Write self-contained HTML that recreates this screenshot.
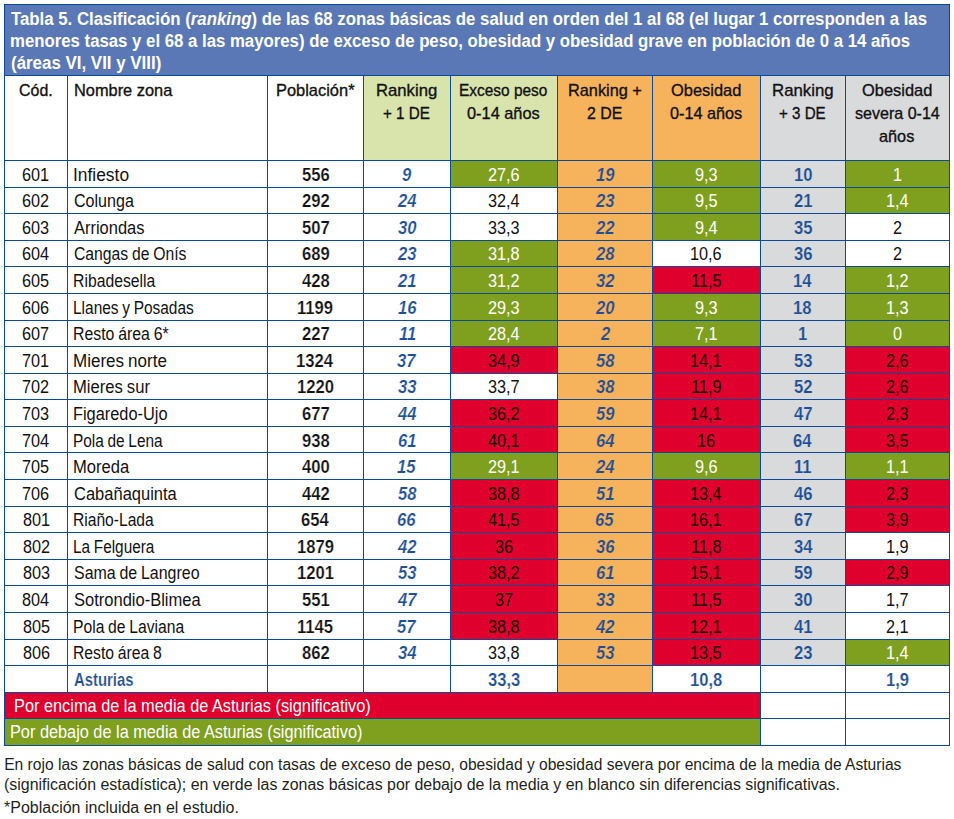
<!DOCTYPE html><html><head><meta charset="utf-8"><style>
html,body{margin:0;padding:0;background:#fff;width:954px;height:819px;overflow:hidden;position:relative}
div.r{position:absolute}
span.t{position:absolute;white-space:nowrap;font-family:"Liberation Sans", sans-serif;transform-origin:0 0}
</style></head><body>
<div class="r" style="left:4px;top:4px;width:946px;height:71px;background:#5a78b6"></div>
<div class="r" style="left:4px;top:75px;width:63px;height:85px;background:#ffffff"></div>
<div class="r" style="left:67px;top:75px;width:200px;height:85px;background:#ffffff"></div>
<div class="r" style="left:267px;top:75px;width:96px;height:85px;background:#ffffff"></div>
<div class="r" style="left:363px;top:75px;width:87px;height:85px;background:#d8e4ab"></div>
<div class="r" style="left:450px;top:75px;width:107px;height:85px;background:#d8e4ab"></div>
<div class="r" style="left:557px;top:75px;width:95px;height:85px;background:#f7b35b"></div>
<div class="r" style="left:652px;top:75px;width:108px;height:85px;background:#f7b35b"></div>
<div class="r" style="left:760px;top:75px;width:85px;height:85px;background:#d9dadc"></div>
<div class="r" style="left:845px;top:75px;width:104px;height:85px;background:#d9dadc"></div>
<div class="r" style="left:4px;top:160px;width:63px;height:27px;background:#ffffff"></div>
<div class="r" style="left:67px;top:160px;width:200px;height:27px;background:#ffffff"></div>
<div class="r" style="left:267px;top:160px;width:96px;height:27px;background:#ffffff"></div>
<div class="r" style="left:363px;top:160px;width:87px;height:27px;background:#ffffff"></div>
<div class="r" style="left:450px;top:160px;width:107px;height:27px;background:#7f9f1f"></div>
<div class="r" style="left:557px;top:160px;width:95px;height:27px;background:#f7b35b"></div>
<div class="r" style="left:652px;top:160px;width:108px;height:27px;background:#7f9f1f"></div>
<div class="r" style="left:760px;top:160px;width:85px;height:27px;background:#d9dadc"></div>
<div class="r" style="left:845px;top:160px;width:104px;height:27px;background:#7f9f1f"></div>
<div class="r" style="left:4px;top:187px;width:63px;height:26px;background:#ffffff"></div>
<div class="r" style="left:67px;top:187px;width:200px;height:26px;background:#ffffff"></div>
<div class="r" style="left:267px;top:187px;width:96px;height:26px;background:#ffffff"></div>
<div class="r" style="left:363px;top:187px;width:87px;height:26px;background:#ffffff"></div>
<div class="r" style="left:450px;top:187px;width:107px;height:26px;background:#ffffff"></div>
<div class="r" style="left:557px;top:187px;width:95px;height:26px;background:#f7b35b"></div>
<div class="r" style="left:652px;top:187px;width:108px;height:26px;background:#7f9f1f"></div>
<div class="r" style="left:760px;top:187px;width:85px;height:26px;background:#d9dadc"></div>
<div class="r" style="left:845px;top:187px;width:104px;height:26px;background:#7f9f1f"></div>
<div class="r" style="left:4px;top:213px;width:63px;height:27px;background:#ffffff"></div>
<div class="r" style="left:67px;top:213px;width:200px;height:27px;background:#ffffff"></div>
<div class="r" style="left:267px;top:213px;width:96px;height:27px;background:#ffffff"></div>
<div class="r" style="left:363px;top:213px;width:87px;height:27px;background:#ffffff"></div>
<div class="r" style="left:450px;top:213px;width:107px;height:27px;background:#ffffff"></div>
<div class="r" style="left:557px;top:213px;width:95px;height:27px;background:#f7b35b"></div>
<div class="r" style="left:652px;top:213px;width:108px;height:27px;background:#7f9f1f"></div>
<div class="r" style="left:760px;top:213px;width:85px;height:27px;background:#d9dadc"></div>
<div class="r" style="left:845px;top:213px;width:104px;height:27px;background:#ffffff"></div>
<div class="r" style="left:4px;top:240px;width:63px;height:26px;background:#ffffff"></div>
<div class="r" style="left:67px;top:240px;width:200px;height:26px;background:#ffffff"></div>
<div class="r" style="left:267px;top:240px;width:96px;height:26px;background:#ffffff"></div>
<div class="r" style="left:363px;top:240px;width:87px;height:26px;background:#ffffff"></div>
<div class="r" style="left:450px;top:240px;width:107px;height:26px;background:#7f9f1f"></div>
<div class="r" style="left:557px;top:240px;width:95px;height:26px;background:#f7b35b"></div>
<div class="r" style="left:652px;top:240px;width:108px;height:26px;background:#ffffff"></div>
<div class="r" style="left:760px;top:240px;width:85px;height:26px;background:#d9dadc"></div>
<div class="r" style="left:845px;top:240px;width:104px;height:26px;background:#ffffff"></div>
<div class="r" style="left:4px;top:266px;width:63px;height:27px;background:#ffffff"></div>
<div class="r" style="left:67px;top:266px;width:200px;height:27px;background:#ffffff"></div>
<div class="r" style="left:267px;top:266px;width:96px;height:27px;background:#ffffff"></div>
<div class="r" style="left:363px;top:266px;width:87px;height:27px;background:#ffffff"></div>
<div class="r" style="left:450px;top:266px;width:107px;height:27px;background:#7f9f1f"></div>
<div class="r" style="left:557px;top:266px;width:95px;height:27px;background:#f7b35b"></div>
<div class="r" style="left:652px;top:266px;width:108px;height:27px;background:#e0002d"></div>
<div class="r" style="left:760px;top:266px;width:85px;height:27px;background:#d9dadc"></div>
<div class="r" style="left:845px;top:266px;width:104px;height:27px;background:#7f9f1f"></div>
<div class="r" style="left:4px;top:293px;width:63px;height:27px;background:#ffffff"></div>
<div class="r" style="left:67px;top:293px;width:200px;height:27px;background:#ffffff"></div>
<div class="r" style="left:267px;top:293px;width:96px;height:27px;background:#ffffff"></div>
<div class="r" style="left:363px;top:293px;width:87px;height:27px;background:#ffffff"></div>
<div class="r" style="left:450px;top:293px;width:107px;height:27px;background:#7f9f1f"></div>
<div class="r" style="left:557px;top:293px;width:95px;height:27px;background:#f7b35b"></div>
<div class="r" style="left:652px;top:293px;width:108px;height:27px;background:#7f9f1f"></div>
<div class="r" style="left:760px;top:293px;width:85px;height:27px;background:#d9dadc"></div>
<div class="r" style="left:845px;top:293px;width:104px;height:27px;background:#7f9f1f"></div>
<div class="r" style="left:4px;top:320px;width:63px;height:26px;background:#ffffff"></div>
<div class="r" style="left:67px;top:320px;width:200px;height:26px;background:#ffffff"></div>
<div class="r" style="left:267px;top:320px;width:96px;height:26px;background:#ffffff"></div>
<div class="r" style="left:363px;top:320px;width:87px;height:26px;background:#ffffff"></div>
<div class="r" style="left:450px;top:320px;width:107px;height:26px;background:#7f9f1f"></div>
<div class="r" style="left:557px;top:320px;width:95px;height:26px;background:#f7b35b"></div>
<div class="r" style="left:652px;top:320px;width:108px;height:26px;background:#7f9f1f"></div>
<div class="r" style="left:760px;top:320px;width:85px;height:26px;background:#d9dadc"></div>
<div class="r" style="left:845px;top:320px;width:104px;height:26px;background:#7f9f1f"></div>
<div class="r" style="left:4px;top:346px;width:63px;height:27px;background:#ffffff"></div>
<div class="r" style="left:67px;top:346px;width:200px;height:27px;background:#ffffff"></div>
<div class="r" style="left:267px;top:346px;width:96px;height:27px;background:#ffffff"></div>
<div class="r" style="left:363px;top:346px;width:87px;height:27px;background:#ffffff"></div>
<div class="r" style="left:450px;top:346px;width:107px;height:27px;background:#e0002d"></div>
<div class="r" style="left:557px;top:346px;width:95px;height:27px;background:#f7b35b"></div>
<div class="r" style="left:652px;top:346px;width:108px;height:27px;background:#e0002d"></div>
<div class="r" style="left:760px;top:346px;width:85px;height:27px;background:#d9dadc"></div>
<div class="r" style="left:845px;top:346px;width:104px;height:27px;background:#e0002d"></div>
<div class="r" style="left:4px;top:373px;width:63px;height:26px;background:#ffffff"></div>
<div class="r" style="left:67px;top:373px;width:200px;height:26px;background:#ffffff"></div>
<div class="r" style="left:267px;top:373px;width:96px;height:26px;background:#ffffff"></div>
<div class="r" style="left:363px;top:373px;width:87px;height:26px;background:#ffffff"></div>
<div class="r" style="left:450px;top:373px;width:107px;height:26px;background:#ffffff"></div>
<div class="r" style="left:557px;top:373px;width:95px;height:26px;background:#f7b35b"></div>
<div class="r" style="left:652px;top:373px;width:108px;height:26px;background:#e0002d"></div>
<div class="r" style="left:760px;top:373px;width:85px;height:26px;background:#d9dadc"></div>
<div class="r" style="left:845px;top:373px;width:104px;height:26px;background:#e0002d"></div>
<div class="r" style="left:4px;top:399px;width:63px;height:27px;background:#ffffff"></div>
<div class="r" style="left:67px;top:399px;width:200px;height:27px;background:#ffffff"></div>
<div class="r" style="left:267px;top:399px;width:96px;height:27px;background:#ffffff"></div>
<div class="r" style="left:363px;top:399px;width:87px;height:27px;background:#ffffff"></div>
<div class="r" style="left:450px;top:399px;width:107px;height:27px;background:#e0002d"></div>
<div class="r" style="left:557px;top:399px;width:95px;height:27px;background:#f7b35b"></div>
<div class="r" style="left:652px;top:399px;width:108px;height:27px;background:#e0002d"></div>
<div class="r" style="left:760px;top:399px;width:85px;height:27px;background:#d9dadc"></div>
<div class="r" style="left:845px;top:399px;width:104px;height:27px;background:#e0002d"></div>
<div class="r" style="left:4px;top:426px;width:63px;height:26px;background:#ffffff"></div>
<div class="r" style="left:67px;top:426px;width:200px;height:26px;background:#ffffff"></div>
<div class="r" style="left:267px;top:426px;width:96px;height:26px;background:#ffffff"></div>
<div class="r" style="left:363px;top:426px;width:87px;height:26px;background:#ffffff"></div>
<div class="r" style="left:450px;top:426px;width:107px;height:26px;background:#e0002d"></div>
<div class="r" style="left:557px;top:426px;width:95px;height:26px;background:#f7b35b"></div>
<div class="r" style="left:652px;top:426px;width:108px;height:26px;background:#e0002d"></div>
<div class="r" style="left:760px;top:426px;width:85px;height:26px;background:#d9dadc"></div>
<div class="r" style="left:845px;top:426px;width:104px;height:26px;background:#e0002d"></div>
<div class="r" style="left:4px;top:452px;width:63px;height:27px;background:#ffffff"></div>
<div class="r" style="left:67px;top:452px;width:200px;height:27px;background:#ffffff"></div>
<div class="r" style="left:267px;top:452px;width:96px;height:27px;background:#ffffff"></div>
<div class="r" style="left:363px;top:452px;width:87px;height:27px;background:#ffffff"></div>
<div class="r" style="left:450px;top:452px;width:107px;height:27px;background:#7f9f1f"></div>
<div class="r" style="left:557px;top:452px;width:95px;height:27px;background:#f7b35b"></div>
<div class="r" style="left:652px;top:452px;width:108px;height:27px;background:#7f9f1f"></div>
<div class="r" style="left:760px;top:452px;width:85px;height:27px;background:#d9dadc"></div>
<div class="r" style="left:845px;top:452px;width:104px;height:27px;background:#7f9f1f"></div>
<div class="r" style="left:4px;top:479px;width:63px;height:27px;background:#ffffff"></div>
<div class="r" style="left:67px;top:479px;width:200px;height:27px;background:#ffffff"></div>
<div class="r" style="left:267px;top:479px;width:96px;height:27px;background:#ffffff"></div>
<div class="r" style="left:363px;top:479px;width:87px;height:27px;background:#ffffff"></div>
<div class="r" style="left:450px;top:479px;width:107px;height:27px;background:#e0002d"></div>
<div class="r" style="left:557px;top:479px;width:95px;height:27px;background:#f7b35b"></div>
<div class="r" style="left:652px;top:479px;width:108px;height:27px;background:#e0002d"></div>
<div class="r" style="left:760px;top:479px;width:85px;height:27px;background:#d9dadc"></div>
<div class="r" style="left:845px;top:479px;width:104px;height:27px;background:#e0002d"></div>
<div class="r" style="left:4px;top:506px;width:63px;height:26px;background:#ffffff"></div>
<div class="r" style="left:67px;top:506px;width:200px;height:26px;background:#ffffff"></div>
<div class="r" style="left:267px;top:506px;width:96px;height:26px;background:#ffffff"></div>
<div class="r" style="left:363px;top:506px;width:87px;height:26px;background:#ffffff"></div>
<div class="r" style="left:450px;top:506px;width:107px;height:26px;background:#e0002d"></div>
<div class="r" style="left:557px;top:506px;width:95px;height:26px;background:#f7b35b"></div>
<div class="r" style="left:652px;top:506px;width:108px;height:26px;background:#e0002d"></div>
<div class="r" style="left:760px;top:506px;width:85px;height:26px;background:#d9dadc"></div>
<div class="r" style="left:845px;top:506px;width:104px;height:26px;background:#e0002d"></div>
<div class="r" style="left:4px;top:532px;width:63px;height:27px;background:#ffffff"></div>
<div class="r" style="left:67px;top:532px;width:200px;height:27px;background:#ffffff"></div>
<div class="r" style="left:267px;top:532px;width:96px;height:27px;background:#ffffff"></div>
<div class="r" style="left:363px;top:532px;width:87px;height:27px;background:#ffffff"></div>
<div class="r" style="left:450px;top:532px;width:107px;height:27px;background:#e0002d"></div>
<div class="r" style="left:557px;top:532px;width:95px;height:27px;background:#f7b35b"></div>
<div class="r" style="left:652px;top:532px;width:108px;height:27px;background:#e0002d"></div>
<div class="r" style="left:760px;top:532px;width:85px;height:27px;background:#d9dadc"></div>
<div class="r" style="left:845px;top:532px;width:104px;height:27px;background:#ffffff"></div>
<div class="r" style="left:4px;top:559px;width:63px;height:26px;background:#ffffff"></div>
<div class="r" style="left:67px;top:559px;width:200px;height:26px;background:#ffffff"></div>
<div class="r" style="left:267px;top:559px;width:96px;height:26px;background:#ffffff"></div>
<div class="r" style="left:363px;top:559px;width:87px;height:26px;background:#ffffff"></div>
<div class="r" style="left:450px;top:559px;width:107px;height:26px;background:#e0002d"></div>
<div class="r" style="left:557px;top:559px;width:95px;height:26px;background:#f7b35b"></div>
<div class="r" style="left:652px;top:559px;width:108px;height:26px;background:#e0002d"></div>
<div class="r" style="left:760px;top:559px;width:85px;height:26px;background:#d9dadc"></div>
<div class="r" style="left:845px;top:559px;width:104px;height:26px;background:#e0002d"></div>
<div class="r" style="left:4px;top:585px;width:63px;height:27px;background:#ffffff"></div>
<div class="r" style="left:67px;top:585px;width:200px;height:27px;background:#ffffff"></div>
<div class="r" style="left:267px;top:585px;width:96px;height:27px;background:#ffffff"></div>
<div class="r" style="left:363px;top:585px;width:87px;height:27px;background:#ffffff"></div>
<div class="r" style="left:450px;top:585px;width:107px;height:27px;background:#e0002d"></div>
<div class="r" style="left:557px;top:585px;width:95px;height:27px;background:#f7b35b"></div>
<div class="r" style="left:652px;top:585px;width:108px;height:27px;background:#e0002d"></div>
<div class="r" style="left:760px;top:585px;width:85px;height:27px;background:#d9dadc"></div>
<div class="r" style="left:845px;top:585px;width:104px;height:27px;background:#ffffff"></div>
<div class="r" style="left:4px;top:612px;width:63px;height:27px;background:#ffffff"></div>
<div class="r" style="left:67px;top:612px;width:200px;height:27px;background:#ffffff"></div>
<div class="r" style="left:267px;top:612px;width:96px;height:27px;background:#ffffff"></div>
<div class="r" style="left:363px;top:612px;width:87px;height:27px;background:#ffffff"></div>
<div class="r" style="left:450px;top:612px;width:107px;height:27px;background:#e0002d"></div>
<div class="r" style="left:557px;top:612px;width:95px;height:27px;background:#f7b35b"></div>
<div class="r" style="left:652px;top:612px;width:108px;height:27px;background:#e0002d"></div>
<div class="r" style="left:760px;top:612px;width:85px;height:27px;background:#d9dadc"></div>
<div class="r" style="left:845px;top:612px;width:104px;height:27px;background:#ffffff"></div>
<div class="r" style="left:4px;top:639px;width:63px;height:26px;background:#ffffff"></div>
<div class="r" style="left:67px;top:639px;width:200px;height:26px;background:#ffffff"></div>
<div class="r" style="left:267px;top:639px;width:96px;height:26px;background:#ffffff"></div>
<div class="r" style="left:363px;top:639px;width:87px;height:26px;background:#ffffff"></div>
<div class="r" style="left:450px;top:639px;width:107px;height:26px;background:#ffffff"></div>
<div class="r" style="left:557px;top:639px;width:95px;height:26px;background:#f7b35b"></div>
<div class="r" style="left:652px;top:639px;width:108px;height:26px;background:#e0002d"></div>
<div class="r" style="left:760px;top:639px;width:85px;height:26px;background:#d9dadc"></div>
<div class="r" style="left:845px;top:639px;width:104px;height:26px;background:#7f9f1f"></div>
<div class="r" style="left:4px;top:665px;width:63px;height:27px;background:#ffffff"></div>
<div class="r" style="left:67px;top:665px;width:200px;height:27px;background:#ffffff"></div>
<div class="r" style="left:267px;top:665px;width:96px;height:27px;background:#ffffff"></div>
<div class="r" style="left:363px;top:665px;width:87px;height:27px;background:#ffffff"></div>
<div class="r" style="left:450px;top:665px;width:107px;height:27px;background:#ffffff"></div>
<div class="r" style="left:557px;top:665px;width:95px;height:27px;background:#f7b35b"></div>
<div class="r" style="left:652px;top:665px;width:108px;height:27px;background:#ffffff"></div>
<div class="r" style="left:760px;top:665px;width:85px;height:27px;background:#ffffff"></div>
<div class="r" style="left:845px;top:665px;width:104px;height:27px;background:#ffffff"></div>
<div class="r" style="left:4px;top:692px;width:756px;height:26px;background:#e0002d"></div>
<div class="r" style="left:4px;top:718px;width:756px;height:27px;background:#7f9f1f"></div>
<div class="r" style="left:4px;top:4px;width:946px;height:1px;background:#0b4a9b"></div>
<div class="r" style="left:4px;top:4px;width:1px;height:742px;background:#0b4a9b"></div>
<div class="r" style="left:949px;top:4px;width:1px;height:742px;background:#0b4a9b"></div>
<div class="r" style="left:4px;top:75px;width:946px;height:1px;background:#0b4a9b"></div>
<div class="r" style="left:4px;top:160px;width:946px;height:1px;background:#0b4a9b"></div>
<div class="r" style="left:4px;top:187px;width:946px;height:1px;background:#0b4a9b"></div>
<div class="r" style="left:4px;top:213px;width:946px;height:1px;background:#0b4a9b"></div>
<div class="r" style="left:4px;top:240px;width:946px;height:1px;background:#0b4a9b"></div>
<div class="r" style="left:4px;top:266px;width:946px;height:1px;background:#0b4a9b"></div>
<div class="r" style="left:4px;top:293px;width:946px;height:1px;background:#0b4a9b"></div>
<div class="r" style="left:4px;top:320px;width:946px;height:1px;background:#0b4a9b"></div>
<div class="r" style="left:4px;top:346px;width:946px;height:1px;background:#0b4a9b"></div>
<div class="r" style="left:4px;top:373px;width:946px;height:1px;background:#0b4a9b"></div>
<div class="r" style="left:4px;top:399px;width:946px;height:1px;background:#0b4a9b"></div>
<div class="r" style="left:4px;top:426px;width:946px;height:1px;background:#0b4a9b"></div>
<div class="r" style="left:4px;top:452px;width:946px;height:1px;background:#0b4a9b"></div>
<div class="r" style="left:4px;top:479px;width:946px;height:1px;background:#0b4a9b"></div>
<div class="r" style="left:4px;top:506px;width:946px;height:1px;background:#0b4a9b"></div>
<div class="r" style="left:4px;top:532px;width:946px;height:1px;background:#0b4a9b"></div>
<div class="r" style="left:4px;top:559px;width:946px;height:1px;background:#0b4a9b"></div>
<div class="r" style="left:4px;top:585px;width:946px;height:1px;background:#0b4a9b"></div>
<div class="r" style="left:4px;top:612px;width:946px;height:1px;background:#0b4a9b"></div>
<div class="r" style="left:4px;top:639px;width:946px;height:1px;background:#0b4a9b"></div>
<div class="r" style="left:4px;top:665px;width:946px;height:1px;background:#0b4a9b"></div>
<div class="r" style="left:4px;top:692px;width:946px;height:1px;background:#0b4a9b"></div>
<div class="r" style="left:4px;top:718px;width:946px;height:1px;background:#0b4a9b"></div>
<div class="r" style="left:4px;top:745px;width:946px;height:1px;background:#0b4a9b"></div>
<div class="r" style="left:67px;top:75px;width:1px;height:618px;background:#0b4a9b"></div>
<div class="r" style="left:267px;top:75px;width:1px;height:618px;background:#0b4a9b"></div>
<div class="r" style="left:363px;top:75px;width:1px;height:618px;background:#0b4a9b"></div>
<div class="r" style="left:450px;top:75px;width:1px;height:618px;background:#0b4a9b"></div>
<div class="r" style="left:557px;top:75px;width:1px;height:618px;background:#0b4a9b"></div>
<div class="r" style="left:652px;top:75px;width:1px;height:618px;background:#0b4a9b"></div>
<div class="r" style="left:760px;top:75px;width:1px;height:671px;background:#0b4a9b"></div>
<div class="r" style="left:845px;top:75px;width:1px;height:671px;background:#0b4a9b"></div>
<span class="t" style="left:11.40px;top:10px;font-size:18.0px;line-height:18.0px;color:#ffffff;font-weight:bold;transform:scaleX(0.9328)">Tabla 5. Clasificación (<i>ranking</i>) de las 68 zonas básicas de salud en orden del 1 al 68 (el lugar 1 corresponden a las</span>
<span class="t" style="left:10.35px;top:32px;font-size:18.0px;line-height:18.0px;color:#ffffff;font-weight:bold;transform:scaleX(0.9314)">menores tasas y el 68 a las mayores) de exceso de peso, obesidad y obesidad grave en población de 0 a 14 años</span>
<span class="t" style="left:10.61px;top:54px;font-size:18.0px;line-height:18.0px;color:#ffffff;font-weight:bold;transform:scaleX(0.9390)">(áreas VI, VII y VIII)</span>
<span class="t" style="left:19.25px;top:82px;font-size:17.0px;line-height:17.0px;color:#111111;transform:scaleX(0.9382);-webkit-text-stroke:0.35px #111111">Cód.</span>
<span class="t" style="left:73.72px;top:82px;font-size:17.0px;line-height:17.0px;color:#111111;transform:scaleX(0.9630);-webkit-text-stroke:0.35px #111111">Nombre zona</span>
<span class="t" style="left:276.02px;top:82px;font-size:17.0px;line-height:17.0px;color:#111111;transform:scaleX(0.9660);-webkit-text-stroke:0.35px #111111">Población*</span>
<span class="t" style="left:375.70px;top:82px;font-size:17.0px;line-height:17.0px;color:#111111;transform:scaleX(0.9819);-webkit-text-stroke:0.35px #111111">Ranking</span>
<span class="t" style="left:383.49px;top:105px;font-size:17.0px;line-height:17.0px;color:#111111;transform:scaleX(0.8953);-webkit-text-stroke:0.35px #111111">+ 1 DE</span>
<span class="t" style="left:459.09px;top:82px;font-size:17.0px;line-height:17.0px;color:#111111;transform:scaleX(0.9075);-webkit-text-stroke:0.35px #111111">Exceso peso</span>
<span class="t" style="left:466.99px;top:105px;font-size:17.0px;line-height:17.0px;color:#111111;transform:scaleX(0.9618);-webkit-text-stroke:0.35px #111111">0-14 años</span>
<span class="t" style="left:567.83px;top:82px;font-size:17.0px;line-height:17.0px;color:#111111;transform:scaleX(0.9592);-webkit-text-stroke:0.35px #111111">Ranking +</span>
<span class="t" style="left:587.36px;top:105px;font-size:17.0px;line-height:17.0px;color:#111111;transform:scaleX(0.9343);-webkit-text-stroke:0.35px #111111">2 DE</span>
<span class="t" style="left:671.23px;top:82px;font-size:17.0px;line-height:17.0px;color:#111111;transform:scaleX(0.9659);-webkit-text-stroke:0.35px #111111">Obesidad</span>
<span class="t" style="left:670.19px;top:105px;font-size:17.0px;line-height:17.0px;color:#111111;transform:scaleX(0.9551);-webkit-text-stroke:0.35px #111111">0-14 años</span>
<span class="t" style="left:772.29px;top:82px;font-size:17.0px;line-height:17.0px;color:#111111;transform:scaleX(0.9885);-webkit-text-stroke:0.35px #111111">Ranking</span>
<span class="t" style="left:779.29px;top:105px;font-size:17.0px;line-height:17.0px;color:#111111;transform:scaleX(0.8894);-webkit-text-stroke:0.35px #111111">+ 3 DE</span>
<span class="t" style="left:861.93px;top:82px;font-size:17.0px;line-height:17.0px;color:#111111;transform:scaleX(0.9659);-webkit-text-stroke:0.35px #111111">Obesidad</span>
<span class="t" style="left:855.25px;top:105px;font-size:17.0px;line-height:17.0px;color:#111111;transform:scaleX(0.9441);-webkit-text-stroke:0.35px #111111">severa 0-14</span>
<span class="t" style="left:879.29px;top:128px;font-size:17.0px;line-height:17.0px;color:#111111;transform:scaleX(0.9581);-webkit-text-stroke:0.35px #111111">años</span>
<span class="t" style="left:22.37px;top:167px;font-size:17.5px;line-height:17.5px;color:#111111;transform:scaleX(0.9300)">601</span>
<span class="t" style="left:72.94px;top:167px;font-size:17.5px;line-height:17.5px;color:#111111;transform:scaleX(0.9936);word-spacing:-0.7px">Infiesto</span>
<span class="t" style="left:301.71px;top:167px;font-size:17.5px;line-height:17.5px;color:#111111;font-weight:bold;transform:scaleX(0.9500);-webkit-text-stroke:0.2px #ffffff">556</span>
<span class="t" style="left:402.19px;top:167px;font-size:17.5px;line-height:17.5px;color:#1c4f96;font-weight:bold;font-style:italic;transform:scaleX(0.9500);-webkit-text-stroke:0.2px #ffffff">9</span>
<span class="t" style="left:488.11px;top:167px;font-size:17.5px;line-height:17.5px;color:#ffffff;transform:scaleX(0.9300)">27,6</span>
<span class="t" style="left:595.57px;top:167px;font-size:17.5px;line-height:17.5px;color:#1c4f96;font-weight:bold;font-style:italic;transform:scaleX(0.9500);-webkit-text-stroke:0.2px #f7b35b">19</span>
<span class="t" style="left:695.14px;top:167px;font-size:17.5px;line-height:17.5px;color:#ffffff;transform:scaleX(0.9300)">9,3</span>
<span class="t" style="left:793.57px;top:167px;font-size:17.5px;line-height:17.5px;color:#1c4f96;font-weight:bold;transform:scaleX(0.9500);-webkit-text-stroke:0.2px #d9dadc">10</span>
<span class="t" style="left:892.80px;top:167px;font-size:17.5px;line-height:17.5px;color:#ffffff;transform:scaleX(0.9300)">1</span>
<span class="t" style="left:22.37px;top:193px;font-size:17.5px;line-height:17.5px;color:#111111;transform:scaleX(0.9300)">602</span>
<span class="t" style="left:73.55px;top:193px;font-size:17.5px;line-height:17.5px;color:#111111;transform:scaleX(0.9181);word-spacing:-0.7px">Colunga</span>
<span class="t" style="left:301.58px;top:193px;font-size:17.5px;line-height:17.5px;color:#111111;font-weight:bold;transform:scaleX(0.9500);-webkit-text-stroke:0.2px #ffffff">292</span>
<span class="t" style="left:397.96px;top:193px;font-size:17.5px;line-height:17.5px;color:#1c4f96;font-weight:bold;font-style:italic;transform:scaleX(0.9500);-webkit-text-stroke:0.2px #ffffff">24</span>
<span class="t" style="left:488.11px;top:193px;font-size:17.5px;line-height:17.5px;color:#111111;transform:scaleX(0.9300)">32,4</span>
<span class="t" style="left:595.96px;top:193px;font-size:17.5px;line-height:17.5px;color:#1c4f96;font-weight:bold;font-style:italic;transform:scaleX(0.9500);-webkit-text-stroke:0.2px #f7b35b">23</span>
<span class="t" style="left:695.14px;top:193px;font-size:17.5px;line-height:17.5px;color:#ffffff;transform:scaleX(0.9300)">9,5</span>
<span class="t" style="left:793.70px;top:193px;font-size:17.5px;line-height:17.5px;color:#1c4f96;font-weight:bold;transform:scaleX(0.9500);-webkit-text-stroke:0.2px #d9dadc">21</span>
<span class="t" style="left:885.88px;top:193px;font-size:17.5px;line-height:17.5px;color:#ffffff;transform:scaleX(0.9300)">1,4</span>
<span class="t" style="left:22.37px;top:220px;font-size:17.5px;line-height:17.5px;color:#111111;transform:scaleX(0.9300)">603</span>
<span class="t" style="left:74.30px;top:220px;font-size:17.5px;line-height:17.5px;color:#111111;transform:scaleX(0.9402);word-spacing:-0.7px">Arriondas</span>
<span class="t" style="left:301.84px;top:220px;font-size:17.5px;line-height:17.5px;color:#111111;font-weight:bold;transform:scaleX(0.9500);-webkit-text-stroke:0.2px #ffffff">507</span>
<span class="t" style="left:397.83px;top:220px;font-size:17.5px;line-height:17.5px;color:#1c4f96;font-weight:bold;font-style:italic;transform:scaleX(0.9500);-webkit-text-stroke:0.2px #ffffff">30</span>
<span class="t" style="left:488.24px;top:220px;font-size:17.5px;line-height:17.5px;color:#111111;transform:scaleX(0.9300)">33,3</span>
<span class="t" style="left:595.96px;top:220px;font-size:17.5px;line-height:17.5px;color:#1c4f96;font-weight:bold;font-style:italic;transform:scaleX(0.9500);-webkit-text-stroke:0.2px #f7b35b">22</span>
<span class="t" style="left:695.01px;top:220px;font-size:17.5px;line-height:17.5px;color:#ffffff;transform:scaleX(0.9300)">9,4</span>
<span class="t" style="left:793.83px;top:220px;font-size:17.5px;line-height:17.5px;color:#1c4f96;font-weight:bold;transform:scaleX(0.9500);-webkit-text-stroke:0.2px #d9dadc">35</span>
<span class="t" style="left:892.92px;top:220px;font-size:17.5px;line-height:17.5px;color:#111111;transform:scaleX(0.9300)">2</span>
<span class="t" style="left:22.24px;top:246px;font-size:17.5px;line-height:17.5px;color:#111111;transform:scaleX(0.9300)">604</span>
<span class="t" style="left:73.56px;top:246px;font-size:17.5px;line-height:17.5px;color:#111111;transform:scaleX(0.8990);word-spacing:-0.7px">Cangas de Onís</span>
<span class="t" style="left:301.58px;top:246px;font-size:17.5px;line-height:17.5px;color:#111111;font-weight:bold;transform:scaleX(0.9500);-webkit-text-stroke:0.2px #ffffff">689</span>
<span class="t" style="left:397.96px;top:246px;font-size:17.5px;line-height:17.5px;color:#1c4f96;font-weight:bold;font-style:italic;transform:scaleX(0.9500);-webkit-text-stroke:0.2px #ffffff">23</span>
<span class="t" style="left:488.24px;top:246px;font-size:17.5px;line-height:17.5px;color:#ffffff;transform:scaleX(0.9300)">31,8</span>
<span class="t" style="left:595.83px;top:246px;font-size:17.5px;line-height:17.5px;color:#1c4f96;font-weight:bold;font-style:italic;transform:scaleX(0.9500);-webkit-text-stroke:0.2px #f7b35b">28</span>
<span class="t" style="left:690.48px;top:246px;font-size:17.5px;line-height:17.5px;color:#111111;transform:scaleX(0.9300)">10,6</span>
<span class="t" style="left:793.83px;top:246px;font-size:17.5px;line-height:17.5px;color:#1c4f96;font-weight:bold;transform:scaleX(0.9500);-webkit-text-stroke:0.2px #d9dadc">36</span>
<span class="t" style="left:892.92px;top:246px;font-size:17.5px;line-height:17.5px;color:#111111;transform:scaleX(0.9300)">2</span>
<span class="t" style="left:22.37px;top:273px;font-size:17.5px;line-height:17.5px;color:#111111;transform:scaleX(0.9300)">605</span>
<span class="t" style="left:73.07px;top:273px;font-size:17.5px;line-height:17.5px;color:#111111;transform:scaleX(0.9003);word-spacing:-0.7px">Ribadesella</span>
<span class="t" style="left:301.84px;top:273px;font-size:17.5px;line-height:17.5px;color:#111111;font-weight:bold;transform:scaleX(0.9500);-webkit-text-stroke:0.2px #ffffff">428</span>
<span class="t" style="left:398.22px;top:273px;font-size:17.5px;line-height:17.5px;color:#1c4f96;font-weight:bold;font-style:italic;transform:scaleX(0.9500);-webkit-text-stroke:0.2px #ffffff">21</span>
<span class="t" style="left:488.24px;top:273px;font-size:17.5px;line-height:17.5px;color:#ffffff;transform:scaleX(0.9300)">31,2</span>
<span class="t" style="left:595.83px;top:273px;font-size:17.5px;line-height:17.5px;color:#1c4f96;font-weight:bold;font-style:italic;transform:scaleX(0.9500);-webkit-text-stroke:0.2px #f7b35b">32</span>
<span class="t" style="left:691.09px;top:273px;font-size:17.5px;line-height:17.5px;color:#1a0005;transform:scaleX(0.9300)">11,5</span>
<span class="t" style="left:793.18px;top:273px;font-size:17.5px;line-height:17.5px;color:#1c4f96;font-weight:bold;transform:scaleX(0.9500);-webkit-text-stroke:0.2px #d9dadc">14</span>
<span class="t" style="left:886.01px;top:273px;font-size:17.5px;line-height:17.5px;color:#ffffff;transform:scaleX(0.9300)">1,2</span>
<span class="t" style="left:22.37px;top:300px;font-size:17.5px;line-height:17.5px;color:#111111;transform:scaleX(0.9300)">606</span>
<span class="t" style="left:73.09px;top:300px;font-size:17.5px;line-height:17.5px;color:#111111;transform:scaleX(0.8833);word-spacing:-0.7px">Llanes y Posadas</span>
<span class="t" style="left:297.15px;top:300px;font-size:17.5px;line-height:17.5px;color:#111111;font-weight:bold;transform:scaleX(0.9500);-webkit-text-stroke:0.2px #ffffff">1199</span>
<span class="t" style="left:397.57px;top:300px;font-size:17.5px;line-height:17.5px;color:#1c4f96;font-weight:bold;font-style:italic;transform:scaleX(0.9500);-webkit-text-stroke:0.2px #ffffff">16</span>
<span class="t" style="left:488.11px;top:300px;font-size:17.5px;line-height:17.5px;color:#ffffff;transform:scaleX(0.9300)">29,3</span>
<span class="t" style="left:595.96px;top:300px;font-size:17.5px;line-height:17.5px;color:#1c4f96;font-weight:bold;font-style:italic;transform:scaleX(0.9500);-webkit-text-stroke:0.2px #f7b35b">20</span>
<span class="t" style="left:695.14px;top:300px;font-size:17.5px;line-height:17.5px;color:#ffffff;transform:scaleX(0.9300)">9,3</span>
<span class="t" style="left:793.44px;top:300px;font-size:17.5px;line-height:17.5px;color:#1c4f96;font-weight:bold;transform:scaleX(0.9500);-webkit-text-stroke:0.2px #d9dadc">18</span>
<span class="t" style="left:886.01px;top:300px;font-size:17.5px;line-height:17.5px;color:#ffffff;transform:scaleX(0.9300)">1,3</span>
<span class="t" style="left:22.37px;top:326px;font-size:17.5px;line-height:17.5px;color:#111111;transform:scaleX(0.9300)">607</span>
<span class="t" style="left:73.06px;top:326px;font-size:17.5px;line-height:17.5px;color:#111111;transform:scaleX(0.9058);word-spacing:-0.7px">Resto área 6*</span>
<span class="t" style="left:301.71px;top:326px;font-size:17.5px;line-height:17.5px;color:#111111;font-weight:bold;transform:scaleX(0.9500);-webkit-text-stroke:0.2px #ffffff">227</span>
<span class="t" style="left:398.58px;top:326px;font-size:17.5px;line-height:17.5px;color:#1c4f96;font-weight:bold;font-style:italic;transform:scaleX(0.9500);-webkit-text-stroke:0.2px #ffffff">11</span>
<span class="t" style="left:487.98px;top:326px;font-size:17.5px;line-height:17.5px;color:#ffffff;transform:scaleX(0.9300)">28,4</span>
<span class="t" style="left:600.58px;top:326px;font-size:17.5px;line-height:17.5px;color:#1c4f96;font-weight:bold;font-style:italic;transform:scaleX(0.9500);-webkit-text-stroke:0.2px #f7b35b">2</span>
<span class="t" style="left:695.14px;top:326px;font-size:17.5px;line-height:17.5px;color:#ffffff;transform:scaleX(0.9300)">7,1</span>
<span class="t" style="left:798.06px;top:326px;font-size:17.5px;line-height:17.5px;color:#1c4f96;font-weight:bold;transform:scaleX(0.9500);-webkit-text-stroke:0.2px #d9dadc">1</span>
<span class="t" style="left:892.92px;top:326px;font-size:17.5px;line-height:17.5px;color:#ffffff;transform:scaleX(0.9300)">0</span>
<span class="t" style="left:22.37px;top:353px;font-size:17.5px;line-height:17.5px;color:#111111;transform:scaleX(0.9300)">701</span>
<span class="t" style="left:72.97px;top:353px;font-size:17.5px;line-height:17.5px;color:#111111;transform:scaleX(0.9727);word-spacing:-0.7px">Mieres norte</span>
<span class="t" style="left:296.44px;top:353px;font-size:17.5px;line-height:17.5px;color:#111111;font-weight:bold;transform:scaleX(0.9500);-webkit-text-stroke:0.2px #ffffff">1324</span>
<span class="t" style="left:397.31px;top:353px;font-size:17.5px;line-height:17.5px;color:#1c4f96;font-weight:bold;font-style:italic;transform:scaleX(0.9500);-webkit-text-stroke:0.2px #ffffff">37</span>
<span class="t" style="left:488.24px;top:353px;font-size:17.5px;line-height:17.5px;color:#1a0005;transform:scaleX(0.9300)">34,9</span>
<span class="t" style="left:595.70px;top:353px;font-size:17.5px;line-height:17.5px;color:#1c4f96;font-weight:bold;font-style:italic;transform:scaleX(0.9500);-webkit-text-stroke:0.2px #f7b35b">58</span>
<span class="t" style="left:690.48px;top:353px;font-size:17.5px;line-height:17.5px;color:#1a0005;transform:scaleX(0.9300)">14,1</span>
<span class="t" style="left:793.83px;top:353px;font-size:17.5px;line-height:17.5px;color:#1c4f96;font-weight:bold;transform:scaleX(0.9500);-webkit-text-stroke:0.2px #d9dadc">53</span>
<span class="t" style="left:886.14px;top:353px;font-size:17.5px;line-height:17.5px;color:#1a0005;transform:scaleX(0.9300)">2,6</span>
<span class="t" style="left:22.37px;top:379px;font-size:17.5px;line-height:17.5px;color:#111111;transform:scaleX(0.9300)">702</span>
<span class="t" style="left:73.00px;top:379px;font-size:17.5px;line-height:17.5px;color:#111111;transform:scaleX(0.9506);word-spacing:-0.7px">Mieres sur</span>
<span class="t" style="left:296.83px;top:379px;font-size:17.5px;line-height:17.5px;color:#111111;font-weight:bold;transform:scaleX(0.9500);-webkit-text-stroke:0.2px #ffffff">1220</span>
<span class="t" style="left:397.83px;top:379px;font-size:17.5px;line-height:17.5px;color:#1c4f96;font-weight:bold;font-style:italic;transform:scaleX(0.9500);-webkit-text-stroke:0.2px #ffffff">33</span>
<span class="t" style="left:488.24px;top:379px;font-size:17.5px;line-height:17.5px;color:#111111;transform:scaleX(0.9300)">33,7</span>
<span class="t" style="left:595.70px;top:379px;font-size:17.5px;line-height:17.5px;color:#1c4f96;font-weight:bold;font-style:italic;transform:scaleX(0.9500);-webkit-text-stroke:0.2px #f7b35b">38</span>
<span class="t" style="left:691.09px;top:379px;font-size:17.5px;line-height:17.5px;color:#1a0005;transform:scaleX(0.9300)">11,9</span>
<span class="t" style="left:793.83px;top:379px;font-size:17.5px;line-height:17.5px;color:#1c4f96;font-weight:bold;transform:scaleX(0.9500);-webkit-text-stroke:0.2px #d9dadc">52</span>
<span class="t" style="left:886.14px;top:379px;font-size:17.5px;line-height:17.5px;color:#1a0005;transform:scaleX(0.9300)">2,6</span>
<span class="t" style="left:22.37px;top:406px;font-size:17.5px;line-height:17.5px;color:#111111;transform:scaleX(0.9300)">703</span>
<span class="t" style="left:73.02px;top:406px;font-size:17.5px;line-height:17.5px;color:#111111;transform:scaleX(0.9346);word-spacing:-0.7px">Figaredo-Ujo</span>
<span class="t" style="left:301.71px;top:406px;font-size:17.5px;line-height:17.5px;color:#111111;font-weight:bold;transform:scaleX(0.9500);-webkit-text-stroke:0.2px #ffffff">677</span>
<span class="t" style="left:398.09px;top:406px;font-size:17.5px;line-height:17.5px;color:#1c4f96;font-weight:bold;font-style:italic;transform:scaleX(0.9500);-webkit-text-stroke:0.2px #ffffff">44</span>
<span class="t" style="left:488.24px;top:406px;font-size:17.5px;line-height:17.5px;color:#1a0005;transform:scaleX(0.9300)">36,2</span>
<span class="t" style="left:595.70px;top:406px;font-size:17.5px;line-height:17.5px;color:#1c4f96;font-weight:bold;font-style:italic;transform:scaleX(0.9500);-webkit-text-stroke:0.2px #f7b35b">59</span>
<span class="t" style="left:690.48px;top:406px;font-size:17.5px;line-height:17.5px;color:#1a0005;transform:scaleX(0.9300)">14,1</span>
<span class="t" style="left:794.09px;top:406px;font-size:17.5px;line-height:17.5px;color:#1c4f96;font-weight:bold;transform:scaleX(0.9500);-webkit-text-stroke:0.2px #d9dadc">47</span>
<span class="t" style="left:886.14px;top:406px;font-size:17.5px;line-height:17.5px;color:#1a0005;transform:scaleX(0.9300)">2,3</span>
<span class="t" style="left:22.24px;top:433px;font-size:17.5px;line-height:17.5px;color:#111111;transform:scaleX(0.9300)">704</span>
<span class="t" style="left:73.10px;top:433px;font-size:17.5px;line-height:17.5px;color:#111111;transform:scaleX(0.8807);word-spacing:-0.7px">Pola de Lena</span>
<span class="t" style="left:301.58px;top:433px;font-size:17.5px;line-height:17.5px;color:#111111;font-weight:bold;transform:scaleX(0.9500);-webkit-text-stroke:0.2px #ffffff">938</span>
<span class="t" style="left:397.83px;top:433px;font-size:17.5px;line-height:17.5px;color:#1c4f96;font-weight:bold;font-style:italic;transform:scaleX(0.9500);-webkit-text-stroke:0.2px #ffffff">61</span>
<span class="t" style="left:488.36px;top:433px;font-size:17.5px;line-height:17.5px;color:#1a0005;transform:scaleX(0.9300)">40,1</span>
<span class="t" style="left:595.57px;top:433px;font-size:17.5px;line-height:17.5px;color:#1c4f96;font-weight:bold;font-style:italic;transform:scaleX(0.9500);-webkit-text-stroke:0.2px #f7b35b">64</span>
<span class="t" style="left:697.27px;top:433px;font-size:17.5px;line-height:17.5px;color:#1a0005;transform:scaleX(0.9300)">16</span>
<span class="t" style="left:793.44px;top:433px;font-size:17.5px;line-height:17.5px;color:#1c4f96;font-weight:bold;transform:scaleX(0.9500);-webkit-text-stroke:0.2px #d9dadc">64</span>
<span class="t" style="left:886.26px;top:433px;font-size:17.5px;line-height:17.5px;color:#1a0005;transform:scaleX(0.9300)">3,5</span>
<span class="t" style="left:22.37px;top:459px;font-size:17.5px;line-height:17.5px;color:#111111;transform:scaleX(0.9300)">705</span>
<span class="t" style="left:73.00px;top:459px;font-size:17.5px;line-height:17.5px;color:#111111;transform:scaleX(0.9487);word-spacing:-0.7px">Moreda</span>
<span class="t" style="left:301.97px;top:459px;font-size:17.5px;line-height:17.5px;color:#111111;font-weight:bold;transform:scaleX(0.9500);-webkit-text-stroke:0.2px #ffffff">400</span>
<span class="t" style="left:397.44px;top:459px;font-size:17.5px;line-height:17.5px;color:#1c4f96;font-weight:bold;font-style:italic;transform:scaleX(0.9500);-webkit-text-stroke:0.2px #ffffff">15</span>
<span class="t" style="left:488.11px;top:459px;font-size:17.5px;line-height:17.5px;color:#ffffff;transform:scaleX(0.9300)">29,1</span>
<span class="t" style="left:595.96px;top:459px;font-size:17.5px;line-height:17.5px;color:#1c4f96;font-weight:bold;font-style:italic;transform:scaleX(0.9500);-webkit-text-stroke:0.2px #f7b35b">24</span>
<span class="t" style="left:695.14px;top:459px;font-size:17.5px;line-height:17.5px;color:#ffffff;transform:scaleX(0.9300)">9,6</span>
<span class="t" style="left:793.90px;top:459px;font-size:17.5px;line-height:17.5px;color:#1c4f96;font-weight:bold;transform:scaleX(0.9500);-webkit-text-stroke:0.2px #d9dadc">11</span>
<span class="t" style="left:886.01px;top:459px;font-size:17.5px;line-height:17.5px;color:#ffffff;transform:scaleX(0.9300)">1,1</span>
<span class="t" style="left:22.37px;top:486px;font-size:17.5px;line-height:17.5px;color:#111111;transform:scaleX(0.9300)">706</span>
<span class="t" style="left:73.53px;top:486px;font-size:17.5px;line-height:17.5px;color:#111111;transform:scaleX(0.9430);word-spacing:-0.7px">Cabañaquinta</span>
<span class="t" style="left:301.84px;top:486px;font-size:17.5px;line-height:17.5px;color:#111111;font-weight:bold;transform:scaleX(0.9500);-webkit-text-stroke:0.2px #ffffff">442</span>
<span class="t" style="left:397.70px;top:486px;font-size:17.5px;line-height:17.5px;color:#1c4f96;font-weight:bold;font-style:italic;transform:scaleX(0.9500);-webkit-text-stroke:0.2px #ffffff">58</span>
<span class="t" style="left:488.24px;top:486px;font-size:17.5px;line-height:17.5px;color:#1a0005;transform:scaleX(0.9300)">38,8</span>
<span class="t" style="left:596.09px;top:486px;font-size:17.5px;line-height:17.5px;color:#1c4f96;font-weight:bold;font-style:italic;transform:scaleX(0.9500);-webkit-text-stroke:0.2px #f7b35b">51</span>
<span class="t" style="left:690.36px;top:486px;font-size:17.5px;line-height:17.5px;color:#1a0005;transform:scaleX(0.9300)">13,4</span>
<span class="t" style="left:793.96px;top:486px;font-size:17.5px;line-height:17.5px;color:#1c4f96;font-weight:bold;transform:scaleX(0.9500);-webkit-text-stroke:0.2px #d9dadc">46</span>
<span class="t" style="left:886.14px;top:486px;font-size:17.5px;line-height:17.5px;color:#1a0005;transform:scaleX(0.9300)">2,3</span>
<span class="t" style="left:22.50px;top:512px;font-size:17.5px;line-height:17.5px;color:#111111;transform:scaleX(0.9300)">801</span>
<span class="t" style="left:73.08px;top:512px;font-size:17.5px;line-height:17.5px;color:#111111;transform:scaleX(0.8921);word-spacing:-0.7px">Riaño-Lada</span>
<span class="t" style="left:301.32px;top:512px;font-size:17.5px;line-height:17.5px;color:#111111;font-weight:bold;transform:scaleX(0.9500);-webkit-text-stroke:0.2px #ffffff">654</span>
<span class="t" style="left:397.44px;top:512px;font-size:17.5px;line-height:17.5px;color:#1c4f96;font-weight:bold;font-style:italic;transform:scaleX(0.9500);-webkit-text-stroke:0.2px #ffffff">66</span>
<span class="t" style="left:488.36px;top:512px;font-size:17.5px;line-height:17.5px;color:#1a0005;transform:scaleX(0.9300)">41,5</span>
<span class="t" style="left:595.31px;top:512px;font-size:17.5px;line-height:17.5px;color:#1c4f96;font-weight:bold;font-style:italic;transform:scaleX(0.9500);-webkit-text-stroke:0.2px #f7b35b">65</span>
<span class="t" style="left:690.48px;top:512px;font-size:17.5px;line-height:17.5px;color:#1a0005;transform:scaleX(0.9300)">16,1</span>
<span class="t" style="left:793.83px;top:512px;font-size:17.5px;line-height:17.5px;color:#1c4f96;font-weight:bold;transform:scaleX(0.9500);-webkit-text-stroke:0.2px #d9dadc">67</span>
<span class="t" style="left:886.26px;top:512px;font-size:17.5px;line-height:17.5px;color:#1a0005;transform:scaleX(0.9300)">3,9</span>
<span class="t" style="left:22.50px;top:539px;font-size:17.5px;line-height:17.5px;color:#111111;transform:scaleX(0.9300)">802</span>
<span class="t" style="left:73.10px;top:539px;font-size:17.5px;line-height:17.5px;color:#111111;transform:scaleX(0.8782);word-spacing:-0.7px">La Felguera</span>
<span class="t" style="left:296.70px;top:539px;font-size:17.5px;line-height:17.5px;color:#111111;font-weight:bold;transform:scaleX(0.9500);-webkit-text-stroke:0.2px #ffffff">1879</span>
<span class="t" style="left:398.09px;top:539px;font-size:17.5px;line-height:17.5px;color:#1c4f96;font-weight:bold;font-style:italic;transform:scaleX(0.9500);-webkit-text-stroke:0.2px #ffffff">42</span>
<span class="t" style="left:495.02px;top:539px;font-size:17.5px;line-height:17.5px;color:#1a0005;transform:scaleX(0.9300)">36</span>
<span class="t" style="left:595.70px;top:539px;font-size:17.5px;line-height:17.5px;color:#1c4f96;font-weight:bold;font-style:italic;transform:scaleX(0.9500);-webkit-text-stroke:0.2px #f7b35b">36</span>
<span class="t" style="left:691.09px;top:539px;font-size:17.5px;line-height:17.5px;color:#1a0005;transform:scaleX(0.9300)">11,8</span>
<span class="t" style="left:793.57px;top:539px;font-size:17.5px;line-height:17.5px;color:#1c4f96;font-weight:bold;transform:scaleX(0.9500);-webkit-text-stroke:0.2px #d9dadc">34</span>
<span class="t" style="left:886.01px;top:539px;font-size:17.5px;line-height:17.5px;color:#111111;transform:scaleX(0.9300)">1,9</span>
<span class="t" style="left:22.50px;top:565px;font-size:17.5px;line-height:17.5px;color:#111111;transform:scaleX(0.9300)">803</span>
<span class="t" style="left:73.80px;top:565px;font-size:17.5px;line-height:17.5px;color:#111111;transform:scaleX(0.9115);word-spacing:-0.7px">Sama de Langreo</span>
<span class="t" style="left:296.70px;top:565px;font-size:17.5px;line-height:17.5px;color:#111111;font-weight:bold;transform:scaleX(0.9500);-webkit-text-stroke:0.2px #ffffff">1201</span>
<span class="t" style="left:397.83px;top:565px;font-size:17.5px;line-height:17.5px;color:#1c4f96;font-weight:bold;font-style:italic;transform:scaleX(0.9500);-webkit-text-stroke:0.2px #ffffff">53</span>
<span class="t" style="left:488.24px;top:565px;font-size:17.5px;line-height:17.5px;color:#1a0005;transform:scaleX(0.9300)">38,2</span>
<span class="t" style="left:595.83px;top:565px;font-size:17.5px;line-height:17.5px;color:#1c4f96;font-weight:bold;font-style:italic;transform:scaleX(0.9500);-webkit-text-stroke:0.2px #f7b35b">61</span>
<span class="t" style="left:690.48px;top:565px;font-size:17.5px;line-height:17.5px;color:#1a0005;transform:scaleX(0.9300)">15,1</span>
<span class="t" style="left:793.83px;top:565px;font-size:17.5px;line-height:17.5px;color:#1c4f96;font-weight:bold;transform:scaleX(0.9500);-webkit-text-stroke:0.2px #d9dadc">59</span>
<span class="t" style="left:886.14px;top:565px;font-size:17.5px;line-height:17.5px;color:#1a0005;transform:scaleX(0.9300)">2,9</span>
<span class="t" style="left:22.37px;top:592px;font-size:17.5px;line-height:17.5px;color:#111111;transform:scaleX(0.9300)">804</span>
<span class="t" style="left:73.78px;top:592px;font-size:17.5px;line-height:17.5px;color:#111111;transform:scaleX(0.9432);word-spacing:-0.7px">Sotrondio-Blimea</span>
<span class="t" style="left:301.71px;top:592px;font-size:17.5px;line-height:17.5px;color:#111111;font-weight:bold;transform:scaleX(0.9500);-webkit-text-stroke:0.2px #ffffff">551</span>
<span class="t" style="left:397.57px;top:592px;font-size:17.5px;line-height:17.5px;color:#1c4f96;font-weight:bold;font-style:italic;transform:scaleX(0.9500);-webkit-text-stroke:0.2px #ffffff">47</span>
<span class="t" style="left:495.02px;top:592px;font-size:17.5px;line-height:17.5px;color:#1a0005;transform:scaleX(0.9300)">37</span>
<span class="t" style="left:595.83px;top:592px;font-size:17.5px;line-height:17.5px;color:#1c4f96;font-weight:bold;font-style:italic;transform:scaleX(0.9500);-webkit-text-stroke:0.2px #f7b35b">33</span>
<span class="t" style="left:691.09px;top:592px;font-size:17.5px;line-height:17.5px;color:#1a0005;transform:scaleX(0.9300)">11,5</span>
<span class="t" style="left:793.96px;top:592px;font-size:17.5px;line-height:17.5px;color:#1c4f96;font-weight:bold;transform:scaleX(0.9500);-webkit-text-stroke:0.2px #d9dadc">30</span>
<span class="t" style="left:886.01px;top:592px;font-size:17.5px;line-height:17.5px;color:#111111;transform:scaleX(0.9300)">1,7</span>
<span class="t" style="left:22.50px;top:619px;font-size:17.5px;line-height:17.5px;color:#111111;transform:scaleX(0.9300)">805</span>
<span class="t" style="left:73.07px;top:619px;font-size:17.5px;line-height:17.5px;color:#111111;transform:scaleX(0.8961);word-spacing:-0.7px">Pola de Laviana</span>
<span class="t" style="left:297.15px;top:619px;font-size:17.5px;line-height:17.5px;color:#111111;font-weight:bold;transform:scaleX(0.9500);-webkit-text-stroke:0.2px #ffffff">1145</span>
<span class="t" style="left:397.31px;top:619px;font-size:17.5px;line-height:17.5px;color:#1c4f96;font-weight:bold;font-style:italic;transform:scaleX(0.9500);-webkit-text-stroke:0.2px #ffffff">57</span>
<span class="t" style="left:488.24px;top:619px;font-size:17.5px;line-height:17.5px;color:#1a0005;transform:scaleX(0.9300)">38,8</span>
<span class="t" style="left:596.09px;top:619px;font-size:17.5px;line-height:17.5px;color:#1c4f96;font-weight:bold;font-style:italic;transform:scaleX(0.9500);-webkit-text-stroke:0.2px #f7b35b">42</span>
<span class="t" style="left:690.48px;top:619px;font-size:17.5px;line-height:17.5px;color:#1a0005;transform:scaleX(0.9300)">12,1</span>
<span class="t" style="left:793.96px;top:619px;font-size:17.5px;line-height:17.5px;color:#1c4f96;font-weight:bold;transform:scaleX(0.9500);-webkit-text-stroke:0.2px #d9dadc">41</span>
<span class="t" style="left:886.14px;top:619px;font-size:17.5px;line-height:17.5px;color:#111111;transform:scaleX(0.9300)">2,1</span>
<span class="t" style="left:22.50px;top:645px;font-size:17.5px;line-height:17.5px;color:#111111;transform:scaleX(0.9300)">806</span>
<span class="t" style="left:73.07px;top:645px;font-size:17.5px;line-height:17.5px;color:#111111;transform:scaleX(0.8995);word-spacing:-0.7px">Resto área 8</span>
<span class="t" style="left:301.58px;top:645px;font-size:17.5px;line-height:17.5px;color:#111111;font-weight:bold;transform:scaleX(0.9500);-webkit-text-stroke:0.2px #ffffff">862</span>
<span class="t" style="left:397.83px;top:645px;font-size:17.5px;line-height:17.5px;color:#1c4f96;font-weight:bold;font-style:italic;transform:scaleX(0.9500);-webkit-text-stroke:0.2px #ffffff">34</span>
<span class="t" style="left:488.24px;top:645px;font-size:17.5px;line-height:17.5px;color:#111111;transform:scaleX(0.9300)">33,8</span>
<span class="t" style="left:595.83px;top:645px;font-size:17.5px;line-height:17.5px;color:#1c4f96;font-weight:bold;font-style:italic;transform:scaleX(0.9500);-webkit-text-stroke:0.2px #f7b35b">53</span>
<span class="t" style="left:690.48px;top:645px;font-size:17.5px;line-height:17.5px;color:#1a0005;transform:scaleX(0.9300)">13,5</span>
<span class="t" style="left:793.70px;top:645px;font-size:17.5px;line-height:17.5px;color:#1c4f96;font-weight:bold;transform:scaleX(0.9500);-webkit-text-stroke:0.2px #d9dadc">23</span>
<span class="t" style="left:885.88px;top:645px;font-size:17.5px;line-height:17.5px;color:#ffffff;transform:scaleX(0.9300)">1,4</span>
<span class="t" style="left:74.07px;top:672px;font-size:17.5px;line-height:17.5px;color:#1c4f96;font-weight:bold;transform:scaleX(0.8502);-webkit-text-stroke:0.2px #ffffff">Asturias</span>
<span class="t" style="left:487.90px;top:672px;font-size:17.5px;line-height:17.5px;color:#1c4f96;font-weight:bold;transform:scaleX(0.9500);-webkit-text-stroke:0.2px #ffffff">33,3</span>
<span class="t" style="left:690.01px;top:672px;font-size:17.5px;line-height:17.5px;color:#1c4f96;font-weight:bold;transform:scaleX(0.9500);-webkit-text-stroke:0.2px #ffffff">10,8</span>
<span class="t" style="left:885.63px;top:672px;font-size:17.5px;line-height:17.5px;color:#1c4f96;font-weight:bold;transform:scaleX(0.9500);-webkit-text-stroke:0.2px #ffffff">1,9</span>
<span class="t" style="left:14.42px;top:698px;font-size:17.6px;line-height:17.6px;color:#ffffff;transform:scaleX(0.9284)">Por encima de la media de Asturias (significativo)</span>
<span class="t" style="left:10.33px;top:724px;font-size:17.6px;line-height:17.6px;color:#ffffff;transform:scaleX(0.9263)">Por debajo de la media de Asturias (significativo)</span>
<span class="t" style="left:4.18px;top:757px;font-size:15.6px;line-height:15.6px;color:#231f20">En rojo las zonas básicas de salud con tasas de exceso de peso, obesidad y obesidad severa por encima de la media de Asturias</span>
<span class="t" style="left:4.15px;top:777px;font-size:15.6px;line-height:15.6px;color:#231f20;transform:scaleX(1.0206)">(significación estadística); en verde las zonas básicas por debajo de la media y en blanco sin diferencias significativas.</span>
<span class="t" style="left:3.85px;top:800px;font-size:15.6px;line-height:15.6px;color:#231f20;transform:scaleX(1.0264)">*Población incluida en el estudio.</span>
</body></html>
